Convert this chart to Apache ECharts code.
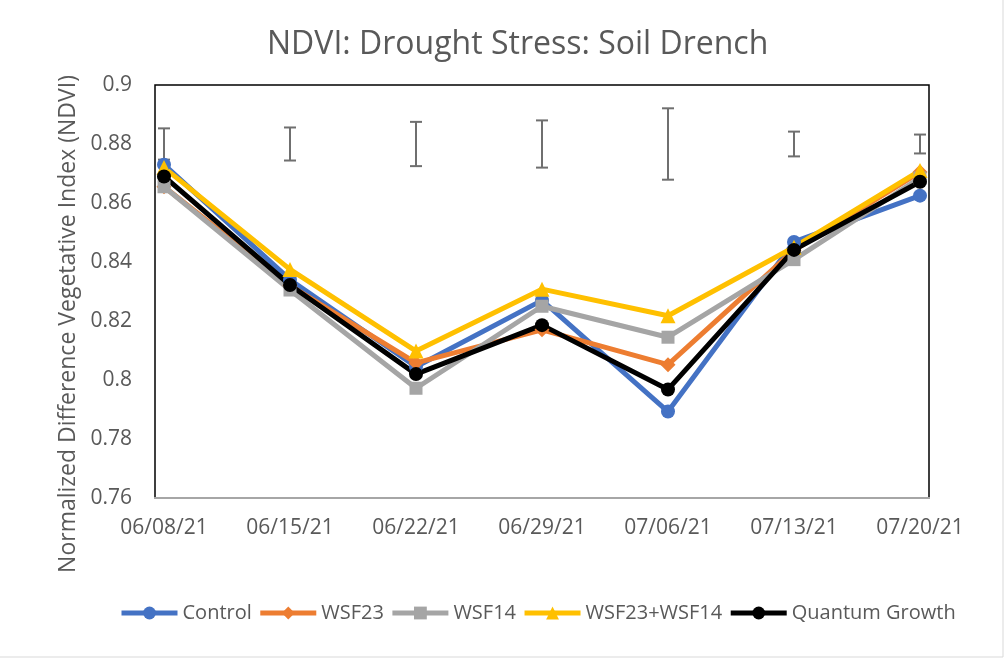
<!DOCTYPE html>
<html>
<head>
<meta charset="utf-8">
<script src="https://cdn.jsdelivr.net/npm/echarts@6/dist/echarts.min.js"></script>
<style>
  html, body { margin: 0; padding: 0; background: #fff; }
  #chart { width: 1006px; height: 662px; }
</style>
</head>
<body>
<div id="chart"></div>
<script>
var dates = ['06/08/21', '06/15/21', '06/22/21', '06/29/21', '07/06/21', '07/13/21', '07/20/21'];

var control   = [0.8730, 0.8340, 0.8045, 0.8270, 0.7893, 0.8468, 0.8625];
var wsf23     = [0.8655, 0.8320, 0.8058, 0.8170, 0.8052, 0.8440, 0.8705];
var wsf14     = [0.8655, 0.8305, 0.7972, 0.8250, 0.8145, 0.8408, 0.8685];
var wsfBoth   = [0.8720, 0.8375, 0.8098, 0.8308, 0.8218, 0.8450, 0.8710];
var quantum   = [0.8690, 0.8322, 0.8020, 0.8186, 0.7968, 0.8441, 0.8672];

// error bars (floating at 0.88)
var errLow  = [0.8747, 0.8744, 0.8725, 0.8720, 0.8679, 0.8758, 0.8768];
var errHigh = [0.8853, 0.8856, 0.8875, 0.8880, 0.8921, 0.8842, 0.8832];

var textColor = '#595959';
var font = '"Open Sans", "Noto Sans", sans-serif';

var myChart = echarts.init(document.getElementById('chart'));

function lineSeries(name, data, color, symbol, size) {
    return {
        name: name,
        type: 'line',
        data: data,
        symbol: symbol,
        symbolSize: size,
        showAllSymbol: true,
        itemStyle: { color: color },
        lineStyle: { color: color, width: 5 },
        emphasis: { disabled: true }
    };
}

var errData = [];
dates.forEach(function (d, i) {
    errData.push([i, errLow[i], errHigh[i]]);
});

myChart.setOption({
    animation: false,
    backgroundColor: '#fff',
    title: {
        text: 'NDVI: Drought Stress: Soil Drench',
        left: 262,
        top: 24,
        textStyle: { fontFamily: font, fontSize: 32, fontWeight: 'normal', color: textColor }
    },
    legend: {
        left: 114,
        top: 598,
        itemWidth: 56,
        itemHeight: 16,
        itemGap: 6,
        lineStyle: { width: 5 },
        textStyle: { fontFamily: font, fontSize: 20, color: textColor },
        data: ['Control', 'WSF23', 'WSF14', 'WSF23+WSF14', 'Quantum Growth']
    },
    grid: { left: 164, right: 86, top: 85, bottom: 164 },
    xAxis: {
        type: 'category',
        data: dates,
        boundaryGap: false,
        axisLine: { show: false },
        axisTick: { show: false },
        axisLabel: { margin: 20, fontFamily: font, fontSize: 21, color: textColor }
    },
    yAxis: {
        type: 'value',
        min: 0.76,
        max: 0.9,
        interval: 0.02,
        splitLine: { show: false },
        axisLine: { show: false },
        axisTick: { show: false },
        axisLabel: {
            margin: 32,
            fontFamily: font, fontSize: 21, color: textColor,
            formatter: function (v) { return String(+v.toFixed(2)); }
        }
    },
    graphic: [
        {
            type: 'rect',
            shape: { x: 155, y: 85, width: 774, height: 413 },
            style: { fill: 'none', stroke: '#000', lineWidth: 1.5 },
            z: 0, silent: true
        },
        {
            type: 'line',
            shape: { x1: 154, y1: 498, x2: 930, y2: 498 },
            style: { stroke: '#a6a6a6', lineWidth: 2 },
            z: 1, silent: true
        },
        {
            type: 'rect',
            shape: { x: -2, y: -2, width: 1005, height: 659 },
            style: { fill: 'none', stroke: '#d9d9d9', lineWidth: 1 },
            silent: true
        },
        {
            type: 'text',
            x: 68,
            y: 324,
            rotation: Math.PI / 2,
            style: {
                text: 'Normalized Difference Vegetative Index (NDVI)',
                fontFamily: font, fontSize: 23, fill: textColor,
                align: 'center', verticalAlign: 'middle'
            },
            silent: true
        }
    ],
    series: [
        {
            name: 'err',
            type: 'custom',
            data: errData,
            renderItem: function (params, api) {
                var x = api.coord([api.value(0), api.value(1)])[0];
                var lo = api.coord([api.value(0), api.value(1)])[1];
                var hi = api.coord([api.value(0), api.value(2)])[1];
                var w = 6;
                var st = { stroke: '#6f6f6f', lineWidth: 2 };
                return {
                    type: 'group',
                    children: [
                        { type: 'line', shape: { x1: x, y1: lo, x2: x, y2: hi }, style: st },
                        { type: 'line', shape: { x1: x - w, y1: lo, x2: x + w, y2: lo }, style: st },
                        { type: 'line', shape: { x1: x - w, y1: hi, x2: x + w, y2: hi }, style: st }
                    ]
                };
            },
            silent: true
        },
        lineSeries('Control', control, '#4472C4', 'circle', 14),
        lineSeries('WSF23', wsf23, '#ED7D31', 'diamond', 15),
        lineSeries('WSF14', wsf14, '#A5A5A5', 'rect', 13),
        lineSeries('WSF23+WSF14', wsfBoth, '#FFC000', 'triangle', 15),
        lineSeries('Quantum Growth', quantum, '#000000', 'circle', 14)
    ]
});
</script>
</body>
</html>
